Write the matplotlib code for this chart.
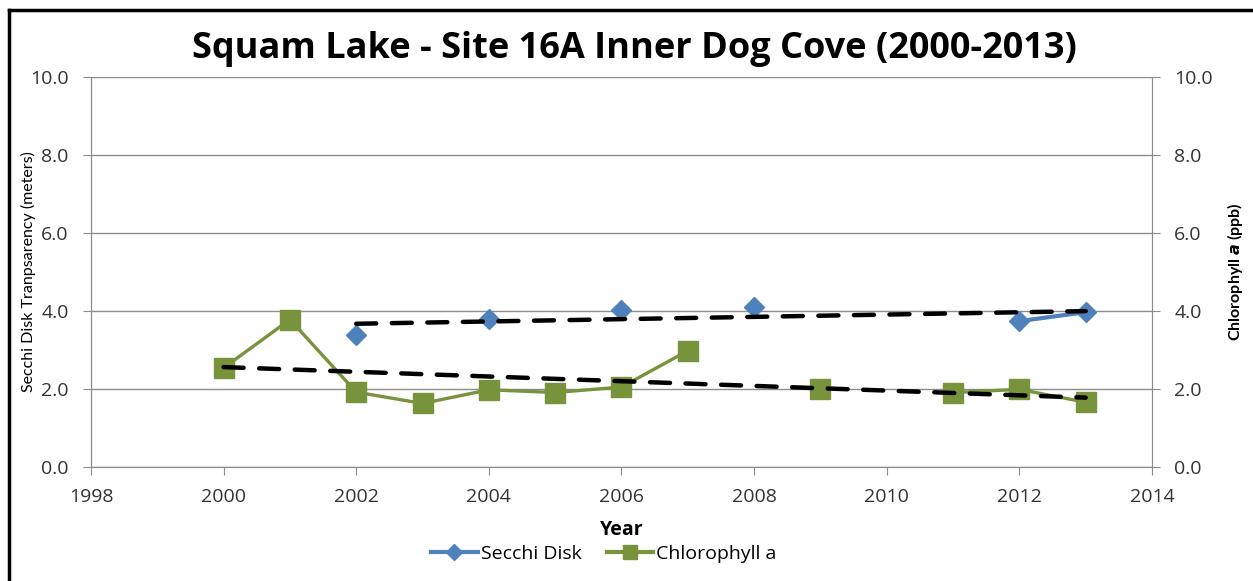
import matplotlib.pyplot as plt
import numpy as np
from matplotlib.lines import Line2D

plt.rcParams['font.family'] = ['Open Sans', 'DejaVu Sans']

years = np.arange(2000, 2014)
# nan = no sample that year
secchi = [np.nan, np.nan, 3.38, np.nan, 3.79, np.nan, 4.03, np.nan, 4.10,
          np.nan, np.nan, np.nan, 3.74, 3.97]
chl = [2.54, 3.78, 1.92, 1.63, 1.98, 1.91, 2.05, 2.98, np.nan,
       1.99, np.nan, 1.91, 1.99, 1.66]

secchi = np.array(secchi)
chl = np.array(chl)

blue = '#4F81BD'
green = '#77933C'
grey = '#8C8C8C'

fig = plt.figure(figsize=(12.53, 5.81), dpi=100)
ax = fig.add_axes([0.0726, 0.1962, 0.8468, 0.6713])
ax2 = ax.twinx()

ax.plot(years, secchi, color=blue, lw=3, marker='D', ms=10.5, zorder=3)
ax2.plot(years, chl, color=green, lw=2.4, marker='s', ms=14, zorder=3)

# linear trendlines
for vals, a in [(secchi, ax), (chl, ax2)]:
    ok = ~np.isnan(vals)
    p = np.polyfit(years[ok], vals[ok], 1)
    xs = np.array([years[ok][0], years[ok][-1]])
    a.plot(xs, np.polyval(p, xs), color='black', lw=3.2, dashes=(4.5, 3.5),
           dash_capstyle='round', zorder=4)

for a in (ax, ax2):
    a.set_ylim(0, 10)
    a.set_yticks(np.arange(0, 11, 2))
    a.set_yticklabels([f'{v:.1f}' for v in np.arange(0, 11, 2)])
    a.tick_params(axis='y', length=6, color=grey, labelsize=14,
                  labelcolor='#333333', pad=10)
    for s in a.spines.values():
        s.set_color(grey)
    a.spines['top'].set_visible(False)

ax.set_xlim(1998, 2014)
ax.set_xticks(np.arange(1998, 2015, 2))
ax.tick_params(axis='x', length=6, color=grey, labelsize=14,
               labelcolor='#333333', pad=9)
ax.grid(axis='y', color=grey, lw=1)
ax.set_axisbelow(True)

ax.set_xlabel('Year', fontsize=14, fontweight='bold', labelpad=10)
ax.set_ylabel('Secchi Disk Tranpsarency (meters)', fontsize=11.5,
              family=['Lato', 'Open Sans'])
ax2.set_ylabel(r'Chlorophyll $\mathbfit{a}$ (ppb)', fontsize=11.5, fontweight='bold',
               family=['Lato', 'Open Sans'])
ax.yaxis.label.set_va('center')
ax2.yaxis.label.set_va('center')
ax.yaxis.set_label_coords(-0.059, 0.5)
ax2.yaxis.set_label_coords(1.078, 0.5)

fig.text(0.506, 0.915, 'Squam Lake - Site 16A Inner Dog Cove (2000-2013)',
         ha='center', va='center', fontsize=26, fontweight='bold')

handles = [Line2D([], [], color=blue, lw=3, marker='D', ms=8),
           Line2D([], [], color=green, lw=3, marker='s', ms=10)]
fig.legend(handles, ['Secchi Disk', 'Chlorophyll a'], loc='center',
           bbox_to_anchor=(0.482, 0.046), ncol=2, frameon=False, fontsize=14,
           handlelength=2.4, handletextpad=0.15, columnspacing=1.3)

# frame lines on the left and top edge
fig.add_artist(Line2D([0.0072, 0.0072], [0, 0.983], color='black', lw=2.5))
fig.add_artist(Line2D([0.0072, 1], [0.983, 0.983], color='black', lw=2.5))

fig.savefig('out.png', dpi=100)
